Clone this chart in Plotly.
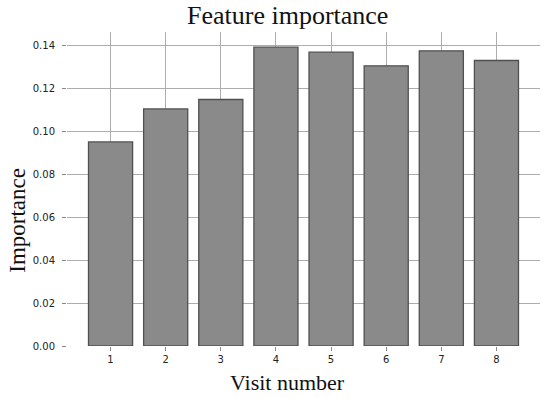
import plotly.graph_objects as go

visits = [1, 2, 3, 4, 5, 6, 7, 8]
importance = [0.0952, 0.1106, 0.1150, 0.1394, 0.1371, 0.1307, 0.1377, 0.1332]
y_ticks = [0.00, 0.02, 0.04, 0.06, 0.08, 0.10, 0.12, 0.14]

fig = go.Figure(go.Bar(
    x=visits, y=importance, width=0.8,
    marker=dict(color="#8a8a8a", line=dict(color="#505050", width=1.3)),
))

serif = "Liberation Serif, Times New Roman, serif"
sans = "DejaVu Sans, sans-serif"

fig.update_layout(
    width=550, height=398,
    margin=dict(l=67, r=10, t=32, b=52),
    paper_bgcolor="white", plot_bgcolor="white",
    showlegend=False,
    xaxis=dict(range=[0.21, 8.79], tickmode="array", tickvals=visits,
               ticktext=[str(v) for v in visits],
               showgrid=True, gridcolor="#adadad", gridwidth=1.2,
               zeroline=False, showline=False,
               ticks="outside", ticklen=4, tickcolor="#888", tickwidth=1,
               tickfont=dict(family=sans, size=10, color="#222")),
    yaxis=dict(range=[0, 0.1465], tickmode="array", tickvals=y_ticks,
               ticktext=[f"{v:.2f}" for v in y_ticks],
               showgrid=True, gridcolor="#adadad", gridwidth=1.2,
               zeroline=False, showline=False,
               ticks="outside", ticklen=4, tickcolor="#888", tickwidth=1,
               ticklabelstandoff=5,
               tickfont=dict(family=sans, size=10, color="#222")),
    annotations=[
        dict(text="Feature importance", xref="paper", yref="paper",
             x=0.467, y=1.052, xanchor="center", yanchor="middle",
             showarrow=False, font=dict(family=serif, size=26, color="#111")),
        dict(text="Visit number", xref="paper", yref="paper",
             x=0.467, y=-0.116, xanchor="center", yanchor="middle",
             showarrow=False, font=dict(family=serif, size=22, color="#111")),
        dict(text="Importance", xref="paper", yref="paper",
             x=-0.105, y=0.40, xanchor="center", yanchor="middle", textangle=-90,
             showarrow=False, font=dict(family=serif, size=23, color="#111")),
    ],
)

fig.write_html("out.html", config={"displayModeBar": False},
               post_script="document.body.style.margin='0px';")
